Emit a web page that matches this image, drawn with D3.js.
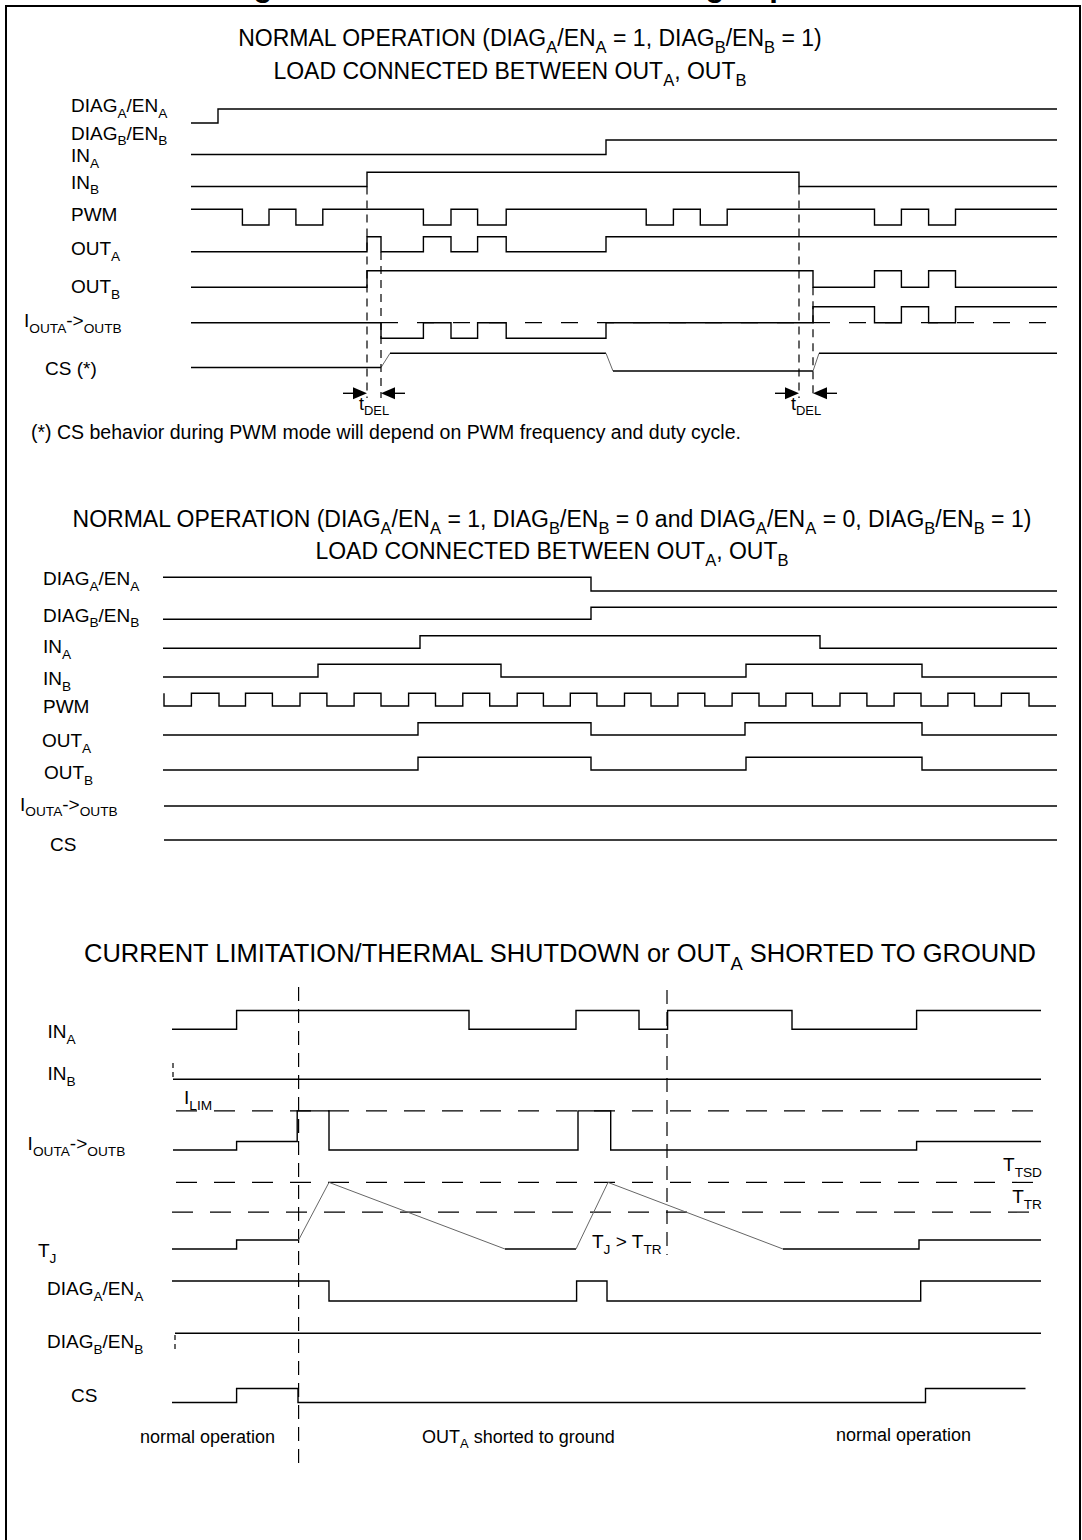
<!DOCTYPE html>
<html>
<head>
<meta charset="utf-8">
<script src="https://cdn.jsdelivr.net/npm/d3@7"></script>
<style>
body{margin:0;background:#fff}
svg text{font-family:"Liberation Sans",Arial,Helvetica,sans-serif;fill:#000;white-space:pre}
.trace{fill:none;stroke:#000;stroke-width:1.4}
.ramp{fill:none;stroke:#666;stroke-width:1}
.fade{fill:none;stroke:#9a9a9a;stroke-width:1.4}
.hdash{fill:none;stroke:#000;stroke-width:1.2}
.vdash{fill:none;stroke:#000;stroke-width:1.2}
.frame{fill:none;stroke:#000;stroke-width:2}
</style>
</head>
<body>
<svg id="chart" width="1082" height="1540"></svg>
<script>

// section 1 : DIAGA/ENA = 1, DIAGB/ENB = 1
var diagA1=[[0,0],[27,1],[866,1]];
var inA1=[[0,0],[415,1],[866,1]];
var inB1=[[0,0],[176,1],[608,0],[866,0]];
var pwm1=[[0,1],[51.4,0],[78,1],[104.9,0],[131.8,1],[232.4,0],[260,1],[286.6,0],[315.2,1],
          [455.2,0],[482.4,1],[509.3,0],[536.2,1],[683.5,0],[710.4,1],[737.6,0],[764.5,1],[866,1]];
var outA1=[[0,0],[176,1],[190,0],[232.4,1],[260,0],[286.6,1],[315.2,0],[415,1],[866,1]];
var outB1=[[0,0],[176,1],[622,0],[683.5,1],[710.4,0],[737.6,1],[764.5,0],[866,0]];
var iout1=[[0,0],[190,-1],[232.4,0],[260,-1],[286.6,0],[315.2,-1],[415,0],[622,1],[683.5,0],
           [710.4,1],[737.6,0],[764.5,1],[866,1]];
var cs1=[[0,0],[190,0],[199,1],[415,1],[422,-0.25],[622,-0.25],[628,1],[866,1]];   // drawn as a polyline
var tDel1=[[176,190],[608,622]];

// section 2 : one side disabled
var diagA2=[[0,1],[428,0],[894,0]];
var diagB2=[[0,0],[428,1],[894,1]];
var inA2=[[0,0],[257,1],[657,0],[894,0]];
var inB2=[[0,0],[155,1],[338,0],[583,1],[759,0],[894,0]];
var pwm2=[[1,1],[1,0],[28.4,1],[56,0],[82.5,1],[109.4,0],[137,1],[163.9,0],[191.1,1],[218,0],
          [245.6,1],[272.5,0],[299.8,1],[326.7,0],[354.2,1],[380.4,0],[407.3,1],[433.9,0],[461.5,1],
          [488,0],[514.9,1],[541.8,0],[569.1,1],[596,0],[622.9,1],[649.4,0],[677,1],[703.9,0],
          [731.1,1],[758,0],[784.9,1],[811.5,0],[838.4,1],[866,0],[893,0]];
var outA2=[[0,0],[255,1],[428,0],[582,1],[759,0],[894,0]];
var outB2=[[0,0],[255,1],[428,0],[583,1],[759,0],[894,0]];
var iout2=[[1,0],[894,0]];
var cs2=[[1,0],[894,0]];

// section 3 : current limitation / thermal shutdown
var inA3=[[0,0],[64.6,1],[297,0],[404,1],[467,0],[495.6,1],[620,0],[744.6,1],[869,1]];
var inB3=[[1,0],[869,0]];
var iLim3=4.6;
var iout3=[[1,0],[64.6,1],[125.2,iLim3],[157,0],[406,iLim3],[438.7,0],[744.6,1],[869,1]];
var tTsd3=7.4, tTr3=4.1;
var tj3=[[0,0],[64.6,0],[64.6,1],[126.6,1],[157,7.4],[333,0],[404,0],[436,7.4],[611,0],[747,0],[747,1],[869,1]];
var diagA3=[[0,1],[157,0],[404.6,1],[435,0],[748.7,1],[869,1]];
var diagB3=[[3,1],[869,1]];
var cs3=[[0,0],[64.6,1],[126,0],[753.5,1],[853.5,1]];
var events3=[126.6,495];

// ---------- layout ----------
var svg=d3.select("#chart");
var x1=d3.scaleLinear().domain([0,866]).range([191,1057]);
var x2=d3.scaleLinear().domain([0,894]).range([163,1057]);
var x3=d3.scaleLinear().domain([0,869]).range([172,1041]);

function rich(sel,str,size)
{
	var parts=str.split(/(_\{[^}]*\})/).filter(s=>s.length);
	var down=false;
	parts.forEach(function(p){
		var isSub=p.indexOf("_{")===0;
		var ts=sel.append("tspan").text(isSub?p.slice(2,-1):p);
		if(isSub){
			ts.attr("font-size",size*0.72);
			if(!down) ts.attr("dy",size*0.3);
			down=true;
		}else{
			if(down) ts.attr("dy",-size*0.3);
			down=false;
		}
	});
}

function label(x,y,str,size,anchor)
{
	var t=svg.append("text")
	.attr("x",x)
	.attr("y",y)
	.attr("font-size",size)
	.style("text-anchor",anchor||"start");
	rich(t,str,size);
	return t;
}

function steps(d)
{
	var out=[];
	d.forEach(function(p,i){
		if(i>0) out.push([p[0],d[i-1][1]]);
		out.push(p);
	});
	return out;
}

function trace(x,y,pts,fadeAfter)
{
	var runs=[],cur=null;
	for(var i=1;i<pts.length;i++)
	{
		var a=pts[i-1],b=pts[i];
		var ramp=a[0]!==b[0]&&a[1]!==b[1];
		var cls=ramp?"ramp":(fadeAfter!=null&&a[0]>=fadeAfter?"fade":"trace");
		if(!cur||cur.cls!==cls){cur={cls:cls,pts:[a]};runs.push(cur);}
		cur.pts.push(b);
	}
	var line=d3.line().x(d=>x(d[0])).y(d=>y(d[1]));
	svg.append("g")
	.selectAll("path")
	.data(runs)
	.join("path")
	.attr("class",d=>d.cls)
	.attr("d",d=>line(d.pts));
}

function hdash(x,y,t0,t1,v,dash)
{
	svg.append("line")
	.attr("class","hdash")
	.attr("x1",x(t0)).attr("x2",x(t1))
	.attr("y1",y(v)).attr("y2",y(v))
	.attr("stroke-dasharray",dash);
}

function vdash(xp,ya,yb,dash)
{
	svg.append("line")
	.attr("class","vdash")
	.attr("x1",xp).attr("x2",xp)
	.attr("y1",ya).attr("y2",yb)
	.attr("stroke-dasharray",dash);
}

// frame and clipped figure caption
svg.append("path").attr("class","frame").attr("d","M6,1540V6H1080V1540");
svg.append("text").attr("x",226).attr("y",-4).attr("font-size",31).attr("font-weight","bold")
.text("Figure 28. Waveforms in full bridge operation");

// ---------- section 1 ----------
label(530,46,"NORMAL OPERATION (DIAG_{A}/EN_{A} = 1, DIAG_{B}/EN_{B} = 1)",23,"middle");
label(510,79,"LOAD CONNECTED BETWEEN OUT_{A}, OUT_{B}",23,"middle");

var rows1=[
	{name:"DIAG_{A}/EN_{A}",lx:71,ly:112,dom:[0,1],rng:[123,109],data:diagA1},
	{name:"DIAG_{B}/EN_{B}",lx:71,ly:139.5},
	{name:"IN_{A}",lx:71,ly:162,dom:[0,1],rng:[154.5,140],data:inA1},
	{name:"IN_{B}",lx:71,ly:188.5,dom:[0,1],rng:[186.5,172.3],data:inB1},
	{name:"PWM",lx:71,ly:221,dom:[0,1],rng:[225,209.3],data:pwm1},
	{name:"OUT_{A}",lx:71,ly:255,dom:[0,1],rng:[251.7,236.7],data:outA1},
	{name:"OUT_{B}",lx:71,ly:293,dom:[0,1],rng:[287.3,270.7],data:outB1},
	{name:"I_{OUTA}->_{OUTB}",lx:24,ly:327,dom:[-1,0,1],rng:[338.3,322.7,306.7],data:iout1,zero:true},
	{name:"CS (*)",lx:45,ly:375,dom:[0,1],rng:[367.5,353.3],data:cs1,poly:true}
];

rows1.forEach(function(r){
	label(r.lx,r.ly,r.name,19);
	if(!r.data) return;
	var y=d3.scaleLinear().domain(r.dom).range(r.rng);
	if(r.zero) hdash(x1,y,tDel1[0][1],866,0,"17,19");
	trace(x1,y,r.poly?r.data:steps(r.data));
});

var dashTop1=[[186.5,252],[186.5,287.3]];
var arrowY=393.3;
tDel1.forEach(function(p,i){
	var xa=x1(p[0]),xb=x1(p[1]);
	vdash(xa,dashTop1[i][0],398,"8,6");
	vdash(xb,dashTop1[i][1],398,"8,6");
	svg.append("line").attr("class","trace").attr("x1",xa-24).attr("x2",xa-10).attr("y1",arrowY).attr("y2",arrowY);
	svg.append("polygon").attr("points",[[xa-14,arrowY-6],[xa,arrowY],[xa-14,arrowY+6]].join(" "));
	svg.append("line").attr("class","trace").attr("x1",xb+10).attr("x2",xb+24).attr("y1",arrowY).attr("y2",arrowY);
	svg.append("polygon").attr("points",[[xb+14,arrowY-6],[xb,arrowY],[xb+14,arrowY+6]].join(" "));
	label((xa+xb)/2,410,"t_{DEL}",18,"middle");
});

svg.append("text").attr("x",31).attr("y",439).attr("font-size",19.5)
.text("(*) CS behavior during PWM mode will depend on PWM frequency and duty cycle.");

// ---------- section 2 ----------
label(552,527,"NORMAL OPERATION (DIAG_{A}/EN_{A} = 1, DIAG_{B}/EN_{B} = 0 and DIAG_{A}/EN_{A} = 0, DIAG_{B}/EN_{B} = 1)",23,"middle");
label(552,559,"LOAD CONNECTED BETWEEN OUT_{A}, OUT_{B}",23,"middle");

var rows2=[
	{name:"DIAG_{A}/EN_{A}",lx:43,ly:585,rng:[591,577.3],data:diagA2},
	{name:"DIAG_{B}/EN_{B}",lx:43,ly:621.7,rng:[619.3,607.3],data:diagB2},
	{name:"IN_{A}",lx:43,ly:653.3,rng:[648.3,635.7],data:inA2},
	{name:"IN_{B}",lx:43,ly:685,rng:[677,664.3],data:inB2},
	{name:"PWM",lx:43,ly:713.3,rng:[706,693.3],data:pwm2},
	{name:"OUT_{A}",lx:42,ly:747.3,rng:[735,722.7],data:outA2},
	{name:"OUT_{B}",lx:44,ly:779.3,rng:[770,757.3],data:outB2},
	{name:"I_{OUTA}->_{OUTB}",lx:20,ly:810.7,rng:[806,792],data:iout2},
	{name:"CS",lx:50,ly:850.7,rng:[840,826],data:cs2}
];

rows2.forEach(function(r){
	label(r.lx,r.ly,r.name,19);
	var y=d3.scaleLinear().domain([0,1]).range(r.rng);
	trace(x2,y,steps(r.data));
});

// ---------- section 3 ----------
label(560,962,"CURRENT LIMITATION/THERMAL SHUTDOWN or OUT_{A} SHORTED TO GROUND",25.5,"middle");

var yIn3A=d3.scaleLinear().domain([0,1]).range([1029.3,1010.5]);
var yIn3B=d3.scaleLinear().domain([0,1]).range([1079.3,1065]);
var yIout3=d3.scaleLinear().domain([0,1]).range([1150,1141.5]);
var yTj3=d3.scaleLinear().domain([0,1]).range([1249,1240]);
var yDiagA3=d3.scaleLinear().domain([0,1]).range([1301,1281]);
var yDiagB3=d3.scaleLinear().domain([0,1]).range([1348,1333.3]);
var yCs3=d3.scaleLinear().domain([0,1]).range([1402.5,1388.5]);

hdash(x3,yIout3,4,871,iLim3,"21,17");
hdash(x3,yTj3,4,871,tTsd3,"21,17");
hdash(x3,yTj3,0,871,tTr3,"21,17");

vdash(x3(events3[0]),987,1470,"14,8");
vdash(x3(events3[1]),990,1255,"14,8");
vdash(x3(inB3[0][0]),1063,1079,"5,4");
vdash(x3(diagB3[0][0]),1335,1350,"5,4");

trace(x3,yIn3A,steps(inA3));
trace(x3,yIn3B,steps(inB3),625);
trace(x3,yIout3,steps(iout3),745);
trace(x3,yTj3,tj3);
trace(x3,yDiagA3,steps(diagA3));
trace(x3,yDiagB3,steps(diagB3));
trace(x3,yCs3,steps(cs3));

label(47.6,1038,"IN_{A}",19);
label(47.6,1080,"IN_{B}",19);
label(184,1104,"I_{LIM}",19);
label(27.6,1150,"I_{OUTA}->_{OUTB}",19);
label(1042,1171,"T_{TSD}",19,"end");
label(1042,1203,"T_{TR}",19,"end");
label(38,1257,"T_{J}",19);
label(x3(420),1248,"T_{J} > T_{TR}",19);
label(47,1295,"DIAG_{A}/EN_{A}",19);
label(47,1348,"DIAG_{B}/EN_{B}",19);
label(71,1402,"CS",19);

label(140,1443,"normal operation",18);
label(422,1443,"OUT_{A} shorted to ground",18);
label(836,1441,"normal operation",18);
</script>
</body>
</html>
